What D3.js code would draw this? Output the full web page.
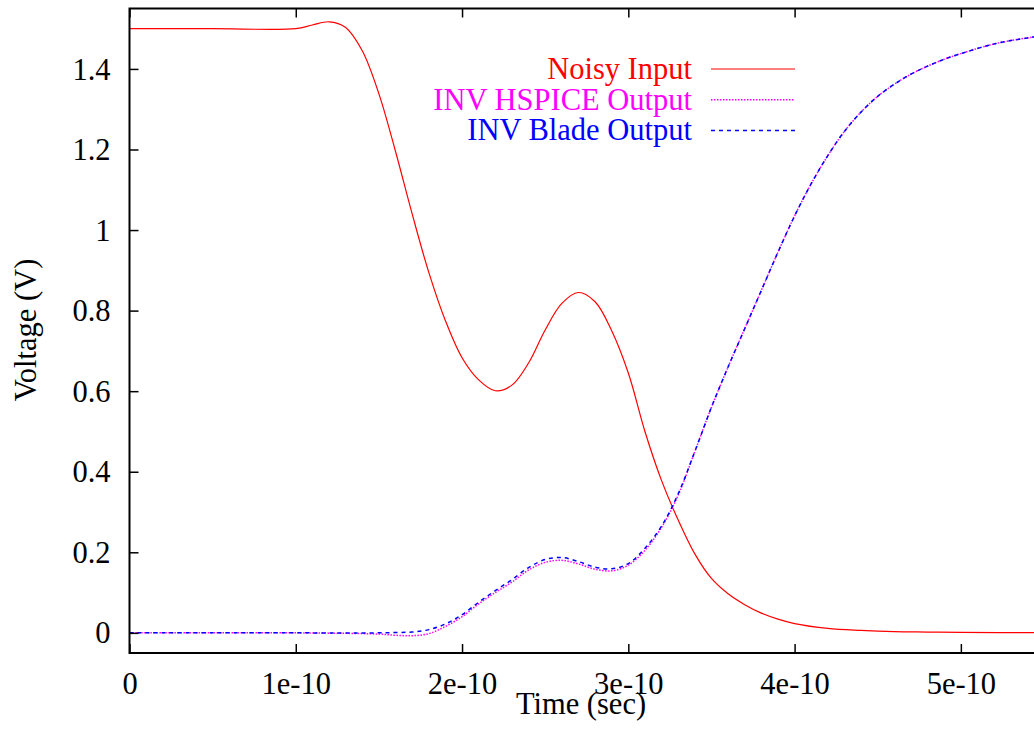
<!DOCTYPE html>
<html>
<head>
<meta charset="utf-8">
<script src="https://cdn.jsdelivr.net/npm/d3@7"></script>
<style>
  body { margin: 0; background: #fff; }
  svg text { font-family: "Liberation Serif", "Times New Roman", serif; }
</style>
</head>
<body>
<svg id="chart" width="1034" height="747"></svg>
<script>
// time samples, in units of 1e-10 s
var timeIn = [0, 0.5, 1.0, 1.1, 1.2, 1.3, 1.4, 1.5, 1.6, 1.7, 1.8, 1.9, 2.0, 2.1, 2.2, 2.3, 2.4, 2.5, 2.6, 2.7, 2.8, 2.9, 3.0,
  3.1, 3.2, 3.3, 3.4, 3.5, 3.6, 3.7, 3.8, 3.9, 4.0, 4.2, 4.4, 4.6, 4.8, 5.0, 5.5];
var noisyInput = [1.5, 1.5, 1.5, 1.509, 1.517, 1.503, 1.445, 1.338, 1.195, 1.04, 0.895, 0.775, 0.683, 0.628, 0.601, 0.615, 0.67, 0.752, 0.818, 0.845, 0.822, 0.75, 0.645,
  0.5, 0.378, 0.28, 0.196, 0.135, 0.097, 0.07, 0.049, 0.034, 0.023, 0.011, 0.006, 0.003, 0.002, 0.001, 0.0005];

var timeOut = [0, 0.5, 1.0, 1.5, 1.6, 1.7, 1.8, 1.9, 2.0, 2.1, 2.2, 2.3, 2.4, 2.5, 2.6, 2.7, 2.8, 2.9, 3.0, 3.1, 3.2, 3.3, 3.4, 3.5,
  3.6, 3.7, 3.8, 3.9, 4.0, 4.1, 4.2, 4.3, 4.4, 4.5, 4.6, 4.7, 4.8, 4.9, 5.0, 5.2, 5.4, 5.5];
var hspiceOut = [0, 0, 0, -0.003, -0.006, -0.007, -0.002, 0.016, 0.04, 0.072, 0.1, 0.126, 0.156, 0.175, 0.18, 0.171, 0.158, 0.154, 0.168, 0.205, 0.262, 0.342, 0.45, 0.56,
  0.66, 0.755, 0.85, 0.945, 1.035, 1.115, 1.185, 1.245, 1.293, 1.332, 1.362, 1.387, 1.407, 1.424, 1.438, 1.462, 1.477, 1.483];
var bladeOut = [0, 0, 0, 0, 0.001, 0.002, 0.008, 0.022, 0.045, 0.076, 0.105, 0.132, 0.162, 0.182, 0.187, 0.177, 0.163, 0.159, 0.172, 0.21, 0.265, 0.345, 0.45, 0.56,
  0.66, 0.755, 0.85, 0.945, 1.035, 1.115, 1.185, 1.245, 1.293, 1.332, 1.362, 1.387, 1.407, 1.424, 1.438, 1.462, 1.477, 1.483];

var xTicks = [0, 1e-10, 2e-10, 3e-10, 4e-10, 5e-10];
var xTickLabels = ["0", "1e-10", "2e-10", "3e-10", "4e-10", "5e-10"];
var yTicks = [0, 0.2, 0.4, 0.6, 0.8, 1, 1.2, 1.4];
var yTickLabels = ["0", "0.2", "0.4", "0.6", "0.8", "1", "1.2", "1.4"];

var seriesNames = ["Noisy Input", "INV HSPICE Output", "INV Blade Output"];
var seriesColors = ["#ff0000", "#ff00ff", "#0000ff"];
var seriesDash = [null, "1.5,1.5", "4,4"];

// plot box (the right edge lies just outside the picture)
var pLeft = 129.5, pTop = 8.5, pBottom = 653, pRight = 1044;

var svg = d3.select("#chart");

var x = d3.scaleLinear().domain([0, 5.5e-10]).range([pLeft, pRight]);
var y = d3.scaleLinear().domain([-0.05, 1.55]).range([pBottom, pTop]);

svg.append("clipPath").attr("id", "plotClip")
  .append("rect").attr("x", pLeft).attr("y", pTop).attr("width", pRight - pLeft).attr("height", pBottom - pTop);

// build the series from the arrays
var series = [
  timeIn.map((t, i) => ({t: t * 1e-10, v: noisyInput[i]})),
  timeOut.map((t, i) => ({t: t * 1e-10, v: hspiceOut[i]})),
  timeOut.map((t, i) => ({t: t * 1e-10, v: bladeOut[i]}))
];

var line = d3.line()
  .x(d => x(d.t))
  .y(d => y(d.v))
  .curve(d3.curveCatmullRom.alpha(0.5));

svg.append("g").attr("clip-path", "url(#plotClip)")
  .selectAll("path")
  .data(series)
  .enter()
  .append("path")
    .attr("d", line)
    .attr("fill", "none")
    .attr("stroke", (d, i) => seriesColors[i])
    .attr("stroke-width", (d, i) => i == 0 ? 1.2 : 1.5)
    .attr("stroke-dasharray", (d, i) => seriesDash[i]);

// axes, ticks pointing inward
var fontSize = 30.5;

var xAxis = svg.append("g")
  .attr("transform", "translate(0," + pBottom + ")")
  .call(d3.axisBottom(x).tickValues(xTicks)
    .tickFormat((d, i) => xTickLabels[i])
    .tickSizeInner(-9).tickSizeOuter(0).tickPadding(20));

var xTop = svg.append("g")
  .attr("transform", "translate(0," + pTop + ")")
  .call(d3.axisTop(x).tickValues(xTicks).tickFormat("")
    .tickSizeInner(-9).tickSizeOuter(0));

var yAxis = svg.append("g")
  .attr("transform", "translate(" + pLeft + ",0)")
  .call(d3.axisLeft(y).tickValues(yTicks)
    .tickFormat((d, i) => yTickLabels[i])
    .tickSizeInner(-9).tickSizeOuter(0).tickPadding(19));

[xAxis, xTop, yAxis].forEach(function (g) {
  g.select(".domain").remove();
  g.attr("font-family", null);
  g.selectAll(".tick line").attr("stroke", "#000").attr("stroke-width", 1.5);
  g.selectAll(".tick text")
    .attr("font-size", fontSize)
    .attr("fill", "#000");
});
xAxis.selectAll(".tick text").attr("dy", "0.68em");
yAxis.selectAll(".tick text").attr("dy", "0.33em");

// frame: left, top, bottom
svg.append("path")
  .attr("d", "M" + pRight + "," + pTop + "H" + pLeft + "V" + pBottom + "H" + pRight)
  .attr("fill", "none")
  .attr("stroke", "#000")
  .attr("stroke-width", 2);

// axis titles
svg.append("text")
  .attr("x", 581).attr("y", 714)
  .attr("text-anchor", "middle")
  .attr("font-size", fontSize)
  .text("Time (sec)");

svg.append("text")
  .attr("transform", "translate(36,330) rotate(-90)")
  .attr("text-anchor", "middle")
  .attr("font-size", fontSize)
  .text("Voltage (V)");

// legend
var legend = svg.append("g").selectAll("g")
  .data(seriesNames)
  .enter()
  .append("g")
    .attr("transform", (d, i) => "translate(0," + (69 + i * 30.7) + ")");

legend.append("text")
  .attr("x", 692)
  .attr("dy", "0.33em")
  .attr("text-anchor", "end")
  .attr("font-size", fontSize)
  .attr("fill", (d, i) => seriesColors[i])
  .text(d => d);

legend.append("line")
  .attr("x1", 711).attr("x2", 795)
  .attr("stroke", (d, i) => seriesColors[i])
  .attr("stroke-width", (d, i) => i == 0 ? 1.2 : 1.5)
  .attr("stroke-dasharray", (d, i) => seriesDash[i]);
</script>
</body>
</html>
